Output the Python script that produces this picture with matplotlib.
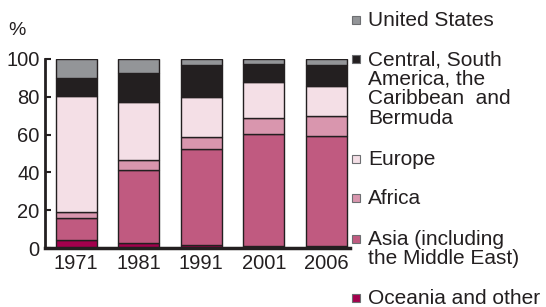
import matplotlib
matplotlib.use("Agg")
import matplotlib.pyplot as plt
import numpy as np

plt.rcParams['font.family'] = ['Liberation Sans', 'DejaVu Sans']

years = ['1971', '1981', '1991', '2001', '2006']
oceania = [4.0, 2.6, 1.6, 1.2, 1.2]
asia = [12.0, 38.7, 50.6, 59.3, 58.1]
africa = [3.2, 5.1, 6.5, 8.1, 10.7]
europe = [61.0, 31.0, 21.3, 19.4, 15.7]
central = [9.6, 15.0, 16.8, 9.5, 11.3]
usa = [10.2, 7.6, 3.2, 2.5, 3.0]

series = [oceania, asia, africa, europe, central, usa]
colors = ['#a3004d', '#c05a80', '#d996ae', '#f4dfe6', '#231f20', '#939598']
labels = ['Oceania and other', 'Asia (including\nthe Middle East)', 'Africa', 'Europe',
          'Central, South\nAmerica, the\nCaribbean  and\nBermuda', 'United States']
label_base = [304, 245, 204, 165, 65, 26]  # pixel row of first baseline

W, H = 546, 307
TXT = '#231f20'
fig = plt.figure(figsize=(W / 100, H / 100), dpi=100)
ax = fig.add_axes([45 / W, (H - 248) / H, 305 / W, 189 / H])

x = np.arange(len(years))
bottom = np.zeros(len(years))
for vals, c in zip(series, colors):
    ax.bar(x, vals, width=0.66, bottom=bottom, color=c, edgecolor=TXT, linewidth=1.0)
    bottom += np.array(vals)

ax.set_xlim(-0.5, 4.38)
ax.set_ylim(0, 100)
ax.set_yticks([0, 20, 40, 60, 80, 100])
ax.set_xticks(x)
ax.set_xticklabels(years)
for s in ['top', 'right']:
    ax.spines[s].set_visible(False)
ax.spines['left'].set_linewidth(2.0)
ax.spines['bottom'].set_linewidth(2.5)
for s in ['left', 'bottom']:
    ax.spines[s].set_color(TXT)
ax.tick_params(axis='y', direction='in', length=4, width=1.5, labelsize=14.5, colors=TXT, pad=4)
ax.tick_params(axis='x', length=0, labelsize=14.5, colors=TXT, pad=4)
fig.text(8 / W, 1 - 35 / H, '%', fontsize=14, color=TXT, va='baseline', ha='left')

for lab, c, yb in zip(labels, colors, label_base):
    fig.patches.append(plt.Rectangle((352 / W, 1 - (yb - 2) / H), 8 / W, 8 / H,
                                     transform=fig.transFigure, facecolor=c,
                                     edgecolor='#6d6e71', linewidth=0.8))
    for i, line in enumerate(lab.split('\n')):
        fig.text(368 / W, 1 - (yb + i * 19.5) / H, line, fontsize=15, color=TXT,
                 va='baseline', ha='left')

fig.savefig('out.png', dpi=100)
